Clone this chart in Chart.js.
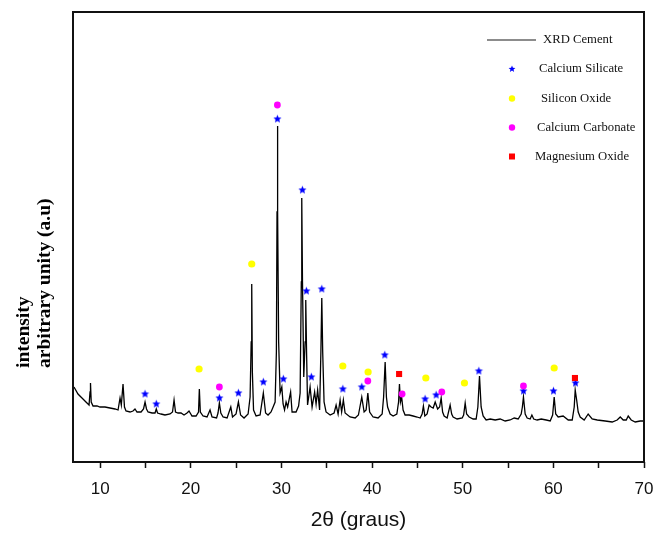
<!DOCTYPE html>
<html>
<head>
<meta charset="utf-8">
<script src="https://cdn.jsdelivr.net/npm/chart.js@4.4.1/dist/chart.umd.min.js"></script>
<style>
  html, body { margin: 0; padding: 0; background: #fff; }
  #wrap { width: 656px; height: 538px; }
</style>
</head>
<body>
<div id="wrap"><canvas id="myChart" width="656" height="538"></canvas></div>
<script>
// XRD pattern of cement (arbitrary intensity units)
const xrdTheta = [
  7.11, 7.55, 7.99, 8.43, 8.77, 8.88, 8.93, 9.01, 9.21, 9.65, 9.98, 10.53, 11.08, 11.64, 11.97,
  12.19, 12.33, 12.52, 12.68, 12.85, 13.29, 13.62, 13.84, 14.06, 14.51, 14.78, 14.95, 15.11, 15.28,
  15.72, 16.05, 16.19, 16.33, 16.71, 17.15, 17.71, 17.98, 18.15, 18.31, 18.59, 18.92, 19.25, 19.58,
  19.8, 20.13, 20.58, 20.85, 20.94, 21.05, 21.35, 21.79, 22.12, 22.34, 22.84, 23.0, 23.15, 23.31,
  23.56, 24.0, 24.41, 24.6, 24.99, 25.25, 25.49, 25.87, 26.32, 26.54, 26.66, 26.72, 26.79, 26.92,
  27.2, 27.64, 28.0, 28.25, 28.52, 28.85, 29.08, 29.3, 29.44, 29.51, 29.55, 29.6, 29.69, 29.85,
  30.04, 30.18, 30.34, 30.51, 30.68, 31.01, 31.17, 31.61, 31.89, 32.06, 32.19, 32.24, 32.32, 32.46,
  32.61, 32.68, 32.77, 32.88, 33.16, 33.38, 33.66, 33.82, 33.99, 34.21, 34.35, 34.45, 34.55, 34.7,
  34.92, 35.37, 35.81, 36.03, 36.25, 36.47, 36.64, 36.83, 37.02, 37.57, 38.13, 38.49, 38.86, 39.12,
  39.34, 39.53, 39.73, 40.11, 40.66, 41.11, 41.27, 41.44, 41.58, 41.71, 41.99, 42.32, 42.73, 42.92,
  43.02, 43.13, 43.26, 43.42, 43.64, 44.09, 44.53, 44.97, 45.3, 45.52, 45.66, 45.82, 46.07, 46.29,
  46.51, 46.74, 46.96, 47.23, 47.45, 47.62, 47.78, 47.95, 48.28, 48.61, 48.78, 48.94, 49.38, 49.94,
  50.1, 50.27, 50.43, 50.71, 51.15, 51.48, 51.67, 51.85, 52.03, 52.25, 52.58, 53.03, 53.58, 54.13,
  54.68, 55.23, 55.68, 56.12, 56.45, 56.58, 56.7, 56.81, 56.89, 57.11, 57.44, 57.63, 57.83, 58.21,
  58.66, 59.21, 59.65, 59.92, 60.09, 60.26, 60.53, 61.08, 61.64, 62.08, 62.3, 62.41, 62.57, 62.74,
  62.96, 63.4, 63.84, 64.28, 64.84, 65.72, 66.49, 67.04, 67.38, 67.71, 68.04, 68.26, 68.59, 69.03,
  69.58, 70.0
];
const xrdIntensity = [
  75, 68, 64, 60, 57, 70, 79, 60, 56, 56, 55, 55, 54, 53, 52,
  64, 57, 78, 55, 51, 50, 51, 53, 50, 50, 53, 60, 53, 50,
  49, 49, 53, 49, 48, 47, 48, 50, 62, 50, 49, 49, 47, 49,
  51, 46, 46, 50, 73, 50, 46, 45, 52, 45, 44, 49, 59, 49,
  45, 44, 55, 45, 48, 60, 47, 44, 48, 65, 120, 178, 90, 52,
  46, 47, 69, 49, 47, 50, 55, 60, 110, 250, 336, 250, 120, 69,
  75, 58, 52, 60, 55, 70, 50, 50, 56, 69, 180, 264, 180, 85,
  120, 162, 110, 57, 75, 55, 70, 58, 72, 52, 110, 164, 110, 60,
  50, 47, 49, 57, 48, 62, 50, 62, 49, 45, 44, 47, 65, 50,
  52, 69, 50, 45, 44, 48, 65, 100, 65, 55, 48, 46, 48, 60,
  78, 60, 65, 52, 47, 47, 46, 45, 44, 48, 56, 46, 48, 57,
  55, 54, 60, 53, 55, 64, 50, 46, 44, 57, 48, 45, 43, 44,
  47, 59, 48, 45, 43, 43, 55, 86, 55, 46, 42, 43, 42, 43,
  41, 42, 44, 43, 48, 55, 65, 55, 48, 44, 43, 47, 43, 42,
  43, 42, 41, 47, 65, 48, 45, 46, 42, 42, 55, 72, 62, 50,
  45, 42, 48, 43, 42, 41, 40, 42, 45, 42, 42, 46, 42, 40,
  41, 41
];

// phase markers
const silicateTheta = [14.95, 16.19, 23.15, 25.25, 28.0, 29.55, 30.21, 32.31, 32.75, 33.3, 34.45, 36.77, 38.86, 41.4, 45.85, 47.07, 51.78, 56.7, 60.01, 62.44];
const silicateY     = [68, 58, 64, 69, 80, 343, 83, 272, 171, 85, 173, 73, 75, 107, 63, 67, 91, 71, 71, 79];
const siliconTheta  = [20.91, 26.72, 36.77, 39.56, 45.93, 50.19, 60.09];
const siliconY      = [93, 198, 96, 90, 84, 79, 94];
const carbonateTheta = [23.15, 29.55, 39.53, 43.31, 47.69, 56.7];
const carbonateY     = [75, 357, 81, 68, 70, 76];
const magnesiumTheta = [42.98, 62.38];
const magnesiumY     = [88, 84];

const legendLabels = ['XRD Cement', 'Calcium Silicate', 'Silicon Oxide', 'Calcium Carbonate', 'Magnesium Oxide'];

function pairs(xs, ys) {
  return xs.map((x, i) => ({ x: x, y: ys[i] }));
}

function makeStar(r, color) {
  const c = document.createElement('canvas');
  const s = Math.ceil(r * 2 + 2);
  c.width = s; c.height = s;
  const g = c.getContext('2d');
  g.fillStyle = color;
  g.beginPath();
  for (let i = 0; i < 10; i++) {
    const rr = i % 2 === 0 ? r : r * 0.45;
    const a = -Math.PI / 2 + i * Math.PI / 5;
    const px = s / 2 + rr * Math.cos(a), py = s / 2 + rr * Math.sin(a);
    if (i === 0) g.moveTo(px, py); else g.lineTo(px, py);
  }
  g.closePath();
  g.fill();
  return c;
}

const starBig = makeStar(4.3, '#0000ff');
const starSmall = makeStar(3.6, '#0000ff');

// frame, y title and legend
const decorPlugin = {
  id: 'decor',
  afterDraw(chart) {
    const ctx = chart.ctx, a = chart.chartArea;
    ctx.save();
    ctx.strokeStyle = '#111';
    ctx.lineWidth = 2;
    ctx.strokeRect(a.left, a.top, a.right - a.left, a.bottom - a.top);

    ctx.fillStyle = '#000';
    ctx.font = 'bold 19.5px "Liberation Serif"';
    ctx.textAlign = 'left';
    ctx.textBaseline = 'alphabetic';
    ctx.save();
    ctx.translate(29, 368); ctx.rotate(-Math.PI / 2);
    ctx.fillText('intensity', 0, 0);
    ctx.restore();
    ctx.save();
    ctx.translate(49.5, 368); ctx.rotate(-Math.PI / 2);
    ctx.fillText('arbitrary unity (a.u)', 0, 0);
    ctx.restore();

    // legend
    const lx = 512, rows = [40, 69, 98.5, 127.5, 156.5];
    const tx = [543, 539, 541, 537, 535];
    ctx.strokeStyle = '#666';
    ctx.lineWidth = 1.5;
    ctx.beginPath(); ctx.moveTo(487, rows[0]); ctx.lineTo(536, rows[0]); ctx.stroke();
    ctx.drawImage(starSmall, lx - starSmall.width / 2, rows[1] - starSmall.height / 2);
    ctx.fillStyle = '#ffff00';
    ctx.beginPath(); ctx.arc(lx, rows[2], 3.2, 0, Math.PI * 2); ctx.fill();
    ctx.fillStyle = '#ff00ff';
    ctx.beginPath(); ctx.arc(lx, rows[3], 3.2, 0, Math.PI * 2); ctx.fill();
    ctx.fillStyle = '#ff0000';
    ctx.fillRect(lx - 3, rows[4] - 3, 6, 6);

    ctx.fillStyle = '#111';
    ctx.font = '12.7px "Liberation Serif"';
    ctx.textBaseline = 'middle';
    legendLabels.forEach((t, i) => ctx.fillText(t, tx[i], rows[i]));
    ctx.restore();
  }
};

new Chart(document.getElementById('myChart'), {
  type: 'scatter',
  data: {
    datasets: [
      {
        label: legendLabels[0],
        data: pairs(xrdTheta, xrdIntensity),
        showLine: true,
        borderColor: '#000',
        borderWidth: 1.3,
        pointRadius: 0,
        tension: 0,
        order: 5
      },
      {
        label: legendLabels[1],
        data: pairs(silicateTheta, silicateY),
        pointStyle: starBig,
        order: 4
      },
      {
        label: legendLabels[2],
        data: pairs(siliconTheta, siliconY),
        pointStyle: 'circle',
        pointRadius: 3.6,
        backgroundColor: '#ffff00',
        borderColor: '#ffff00',
        borderWidth: 0,
        order: 3
      },
      {
        label: legendLabels[3],
        data: pairs(carbonateTheta, carbonateY),
        pointStyle: 'circle',
        pointRadius: 3.4,
        backgroundColor: '#ff00ff',
        borderColor: '#ff00ff',
        borderWidth: 0,
        order: 2
      },
      {
        label: legendLabels[4],
        data: pairs(magnesiumTheta, magnesiumY),
        pointStyle: 'rect',
        pointRadius: 4.3,
        backgroundColor: '#ff0000',
        borderColor: '#ff0000',
        borderWidth: 0,
        order: 1
      }
    ]
  },
  options: {
    responsive: false,
    animation: false,
    events: [],
    layout: { padding: { left: 0, right: 12, top: 12, bottom: 0 } },
    plugins: { legend: { display: false }, tooltip: { enabled: false } },
    scales: {
      x: {
        type: 'linear',
        min: 7,
        max: 70,
        afterFit: function (scale) {
          scale.height = 76;
          scale.paddingLeft = 0;
          scale.paddingRight = 0;
        },
        border: { display: false },
        grid: { drawOnChartArea: false, drawTicks: true, tickLength: 6, tickWidth: 1.5, color: '#111' },
        ticks: {
          stepSize: 5,
          includeBounds: false,
          autoSkip: false,
          maxRotation: 0,
          padding: 11,
          color: '#111',
          font: { family: '"Liberation Sans", Arial', size: 17 },
          callback: function (v) { return v % 10 === 0 ? String(v) : ''; }
        },
        title: {
          display: true,
          text: '2θ (graus)',
          color: '#111',
          font: { family: '"Liberation Sans", Arial', size: 21 },
          padding: { top: 0, bottom: 5 }
        }
      },
      y: {
        type: 'linear',
        min: 0,
        max: 450,
        afterFit: function (scale) { scale.width = 73; },
        border: { display: false },
        grid: { display: false },
        ticks: { display: false }
      }
    }
  },
  plugins: [decorPlugin]
});
</script>
</body>
</html>
